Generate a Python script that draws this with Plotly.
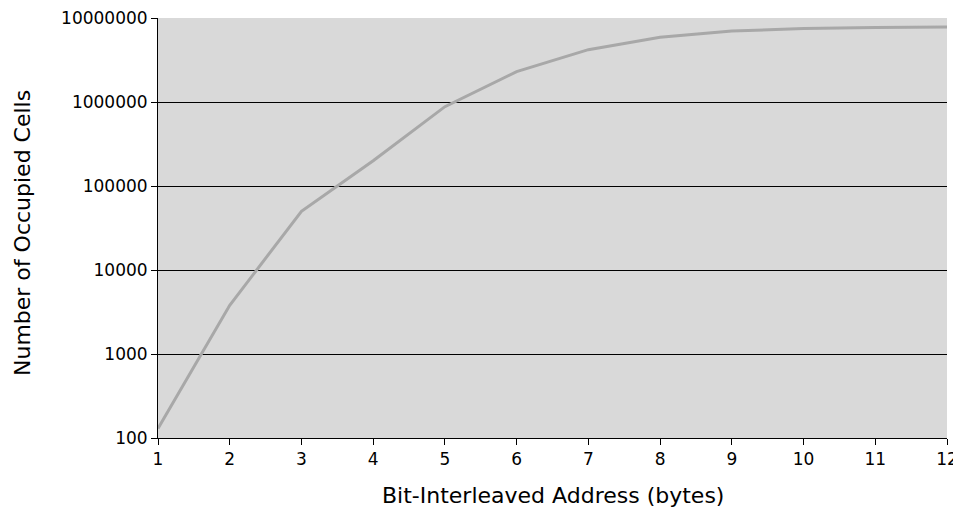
import plotly.graph_objects as go

address_bytes = [1, 2, 3, 4, 5, 6, 7, 8, 9, 10, 11, 12]
occupied_cells = [130, 3800, 50000, 200000, 880000, 2300000, 4200000,
                  5900000, 7000000, 7500000, 7700000, 7800000]
y_tick_vals = [100, 1000, 10000, 100000, 1000000, 10000000]
y_tick_text = ["100", "1000", "10000", "100000", "1000000", "10000000"]
x_title = "Bit-Interleaved Address (bytes)"
y_title = "Number of Occupied Cells"

fig = go.Figure()
fig.add_trace(go.Scatter(
    x=address_bytes, y=occupied_cells, mode="lines",
    line=dict(color="#a8a8a8", width=3), showlegend=False,
))

font_family = "DejaVu Sans"
# page body has an 8px margin; compensate so the plot area lands at 158..947 x 18..438
fig.update_layout(
    width=961, height=510,
    margin=dict(l=150, r=22, t=10, b=80),
    paper_bgcolor="white", plot_bgcolor="#d9d9d9",
    font=dict(family=font_family, color="black", size=17),
)
fig.update_xaxes(
    range=[1, 12], tickvals=address_bytes, ticks="outside", ticklen=6,
    tickcolor="black", showline=True, linecolor="black", linewidth=1,
    showgrid=False, zeroline=False, tickfont=dict(size=17), automargin=False,
    ticklabeloverflow="allow",
)
fig.update_yaxes(
    type="log", range=[2, 7], tickvals=y_tick_vals, ticktext=y_tick_text,
    ticks="outside", ticklen=6, tickcolor="black", showline=True,
    linecolor="black", linewidth=1, showgrid=True, gridcolor="black",
    gridwidth=1, zeroline=False, tickfont=dict(size=17), automargin=False,
    ticklabeloverflow="allow",
)
fig.add_annotation(
    text=x_title, xref="paper", yref="paper", x=0.5, y=0,
    xanchor="center", yanchor="middle", yshift=-57, showarrow=False,
    font=dict(size=22, family=font_family, color="black"),
)
fig.add_annotation(
    text=y_title, xref="paper", yref="paper", x=0, y=0.5,
    xanchor="center", yanchor="middle", xshift=-136, yshift=-5,
    textangle=-90, showarrow=False,
    font=dict(size=22, family=font_family, color="black"),
)
fig.write_html("out.html")
